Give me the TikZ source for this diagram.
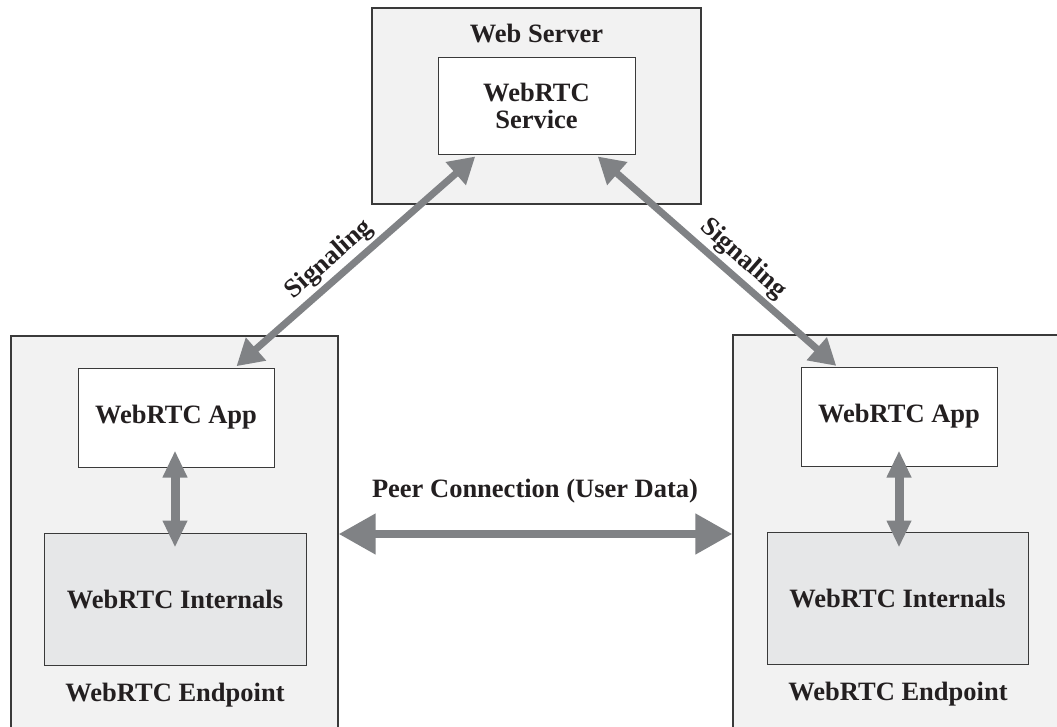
\documentclass[tikz,border=0pt]{standalone}
\usepackage{fontspec}
\setmainfont{Liberation Serif}
\usetikzlibrary{arrows.meta}
\definecolor{boxgray}{HTML}{F2F2F2}
\definecolor{intgray}{HTML}{E6E7E8}
\definecolor{arrgray}{HTML}{808285}
\definecolor{edgecol}{HTML}{3A3A3A}
\definecolor{txt}{HTML}{231F20}
\begin{document}
\begin{tikzpicture}[x=1pt,y=-1pt,
  lbl/.style={font=\fontsize{26.5}{28}\selectfont\bfseries, text=txt},
  outerbox/.style={draw=edgecol, line width=1.4pt, fill=boxgray, inner sep=0pt},
  innerbox/.style={draw=edgecol, line width=1pt, fill=white, inner sep=0pt, lbl, align=center},
  intbox/.style={innerbox, fill=intgray},
  sigarrow/.style={draw=arrgray, line width=7pt, shorten <=2pt, shorten >=3pt,
    {Triangle[length=26pt,width=29pt]}-{Triangle[length=26pt,width=29pt]}},
  vertarrow/.style={draw=arrgray, line width=9pt,
    {Triangle[length=27pt,width=23pt]}-{Triangle[length=27pt,width=23pt]}},
  peerarrow/.style={draw=arrgray, line width=8pt,
    {Triangle[length=37pt,width=39pt]}-{Triangle[length=37pt,width=39pt]}},
  siglabel/.style={font=\fontsize{26.5}{28}\selectfont\bfseries, text=txt, inner sep=0pt}
]
\useasboundingbox (0,0) rectangle (1057,726);
\clip (0,0) rectangle (1057,726);
\fill[white] (0,0) rectangle (1057,726);

% Web server
\node[outerbox, line width=1.2pt, minimum width=329pt, minimum height=196pt] (ws) at (536.5,106) {};
\node[lbl, anchor=base] (wslbl) at (536.5,42) {Web Server};
\node[innerbox, minimum width=197pt, minimum height=97pt] (svc) at (536.5,105.5) {WebRTC\\[-1pt]Service};

% Left endpoint
\node[outerbox, minimum width=327pt, minimum height=396pt] (lep) at (174.5,534) {};
\node[innerbox, minimum width=196pt, minimum height=99pt] (lapp) at (176,417.5) {WebRTC App};
\node[intbox, minimum width=262pt, minimum height=132pt] (lint) at (175,599) {WebRTC Internals};
\node[lbl, anchor=base] (leplbl) at (175,701.5) {WebRTC Endpoint};

% Right endpoint
\node[outerbox, minimum width=332pt, minimum height=398pt] (rep) at (899,534) {};
\node[innerbox, minimum width=196pt, minimum height=99pt] (rapp) at (899,416.5) {WebRTC App};
\node[intbox, minimum width=261pt, minimum height=132pt] (rint) at (897.5,598) {WebRTC Internals};
\node[lbl, anchor=base] (replbl) at (898,700.5) {WebRTC Endpoint};

% Internal arrows
\draw[vertarrow, shorten <=-17pt, shorten >=-15pt] ([xshift=-1pt]lapp.south) -- ([xshift=-1pt]lapp.south |- lint.north);
\draw[vertarrow, shorten <=-16pt, shorten >=-16pt] (rapp.south) -- (rapp.south |- rint.north);

% Peer connection
\draw[peerarrow] (lep.east) -- (rep.west);
\node[lbl, anchor=base] (peerlbl) at (535,497) {Peer Connection (User Data)};

% Signaling
\draw[sigarrow] ([xshift=59pt]lapp.north) -- ([xshift=-59pt]svc.south)
  node[siglabel, pos=0.44, sloped, above=3pt] (sigl) {Signaling};
\draw[sigarrow, shorten <=3pt, shorten >=1pt] ([xshift=59pt]svc.south) -- ([xshift=-62pt]rapp.north)
  node[siglabel, pos=0.56, sloped, above=3pt] (sigr) {Signaling};
\end{tikzpicture}
\end{document}
